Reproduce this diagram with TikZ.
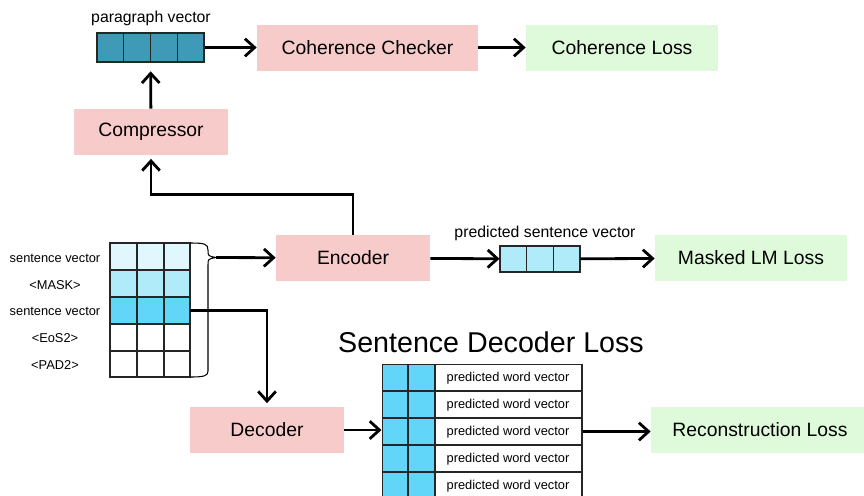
\documentclass[tikz,border=0pt]{standalone}
\usepackage{fontspec}
\setmainfont{Liberation Sans}
\usepackage{tikz}
\usetikzlibrary{arrows.meta}
\definecolor{modpink}{HTML}{F8CBCB}
\definecolor{lossgreen}{HTML}{DEFADA}
\definecolor{parateal}{HTML}{3F9AB8}
\definecolor{rowpale}{HTML}{E0F7FD}
\definecolor{rowlight}{HTML}{B0EBFA}
\definecolor{rowblue}{HTML}{62D6F8}
\tikzset{arr/.style = {-{Straight Barb[length=5.5pt,width=10pt]}, line width=1.6pt},
         module/.style = {fill=modpink, minimum width=3.08cm, minimum height=0.92cm,
                          inner sep=0pt, font=\fontsize{11}{13}\selectfont},
         loss/.style = {fill=lossgreen, minimum width=3.84cm, minimum height=0.92cm,
                        inner sep=0pt, font=\fontsize{11}{13}\selectfont},
         cell/.style = {draw=black!85, line width=0.6pt},
         tag/.style = {inner sep=0pt, font=\fontsize{7.3}{9}\selectfont},
         caption/.style = {inner sep=0pt, font=\fontsize{9}{11}\selectfont}}

\begin{document}
\begin{tikzpicture}[x=0.02cm, y=-0.02cm]
    \useasboundingbox (0, 0) rectangle (864, 495);
    % top row
    \node [caption] (pvlabel) at (151, 18) {paragraph vector};
    \node [cell, fill=parateal, minimum width=2.14cm, minimum height=0.58cm, inner sep=0pt] (pv) at (150.5, 47.5) {};
    \foreach \x in {123.75, 150.5, 177.25}
        \draw [cell] (\x, 33) -- (\x, 62);
    \node [module, minimum width=4.42cm] (checker) at (367.5, 47.5) {Coherence Checker};
    \node [loss] (cohloss) at (622, 47.5) {Coherence Loss};
    \draw [arr] (pv) -- (checker);
    \draw [arr] (checker) -- (cohloss);
    \node [module] (comp) at (151, 132) {Compressor};
    \draw [arr, shorten >=5pt] (comp) -- (pv);

    % input sentences
    \fill [rowpale] (110, 243) rectangle (190, 270);
    \fill [rowlight] (110, 270) rectangle (190, 297);
    \fill [rowblue] (110, 297) rectangle (190, 324);
    \node [cell, minimum width=1.6cm, minimum height=2.68cm, inner sep=0pt] (inmat) at (150, 310) {};
    \foreach \x in {137, 164}
        \draw [cell] (\x, 243) -- (\x, 377);
    \foreach \y in {270, 297, 324, 351}
        \draw [cell] (110, \y) -- (190, \y);
    \node [tag] (lab1) at (55, 258.5) {sentence vector};
    \node [tag] (lab2) at (55, 285) {<MASK>};
    \node [tag] (lab3) at (55, 311.5) {sentence vector};
    \node [tag] (lab4) at (55, 338.5) {<EoS2>};
    \node [tag] (lab5) at (55, 365.5) {<PAD2>};
    \draw [line width=0.6pt] (190, 243) .. controls (205, 243) and (208, 244) .. (208, 250)
        .. controls (208, 256) .. (216, 257.5) .. controls (208, 259) .. (208, 265)
        -- (208, 371) .. controls (208, 376) and (204, 377) .. (190, 377);
    \coordinate (brtip) at (216, 257.5);
    \coordinate (row3) at (190, 310.5);

    % encoder branch
    \node [module] (enc) at (353, 258) {Encoder};
    \draw [arr] (brtip) -- (enc);
    \draw [arr, shorten >=2pt] (enc.north) -- ++(0, -40) -| (comp.south);
    \node [caption] (psvlabel) at (545, 233.5) {predicted sentence vector};
    \node [cell, fill=rowlight, minimum width=1.6cm, minimum height=0.52cm, inner sep=0pt] (psv) at (540, 259) {};
    \foreach \x in {526.67, 553.33}
        \draw [cell] (\x, 246) -- (\x, 272);
    \node [loss] (mlm) at (751, 258) {Masked LM Loss};
    \draw [arr] (enc) -- (psv);
    \draw [arr] (psv) -- (mlm);

    % decoder branch
    \node [module] (dec) at (267, 430) {Decoder};
    \draw [arr, shorten >=2pt] (row3) -| (dec.north);
    \node [inner sep=0pt, font=\fontsize{16.3}{19}\selectfont] (title) at (491, 342) {Sentence Decoder Loss};
    \fill [rowblue] (382, 364) rectangle (435, 499);
    \node [cell, minimum width=4cm, minimum height=2.7cm, inner sep=0pt] (outmat) at (482, 431.5) {};
    \foreach \x in {408, 435}
        \draw [cell] (\x, 364) -- (\x, 499);
    \foreach \y in {391, 418, 445, 472}
        \draw [cell] (382, \y) -- (582, \y);
    \foreach \k in {1, ..., 5}
        \node [tag] (pw\k) at (508, 351 + 27*\k) {predicted word vector};
    \draw [arr] (dec.east) -- (dec.east -| outmat.west);
    \node [loss, minimum width=4.36cm] (rec) at (760, 430) {Reconstruction Loss};
    \draw [arr] (outmat.east) -- (outmat.east -| rec.west);
\end{tikzpicture}
\end{document}
